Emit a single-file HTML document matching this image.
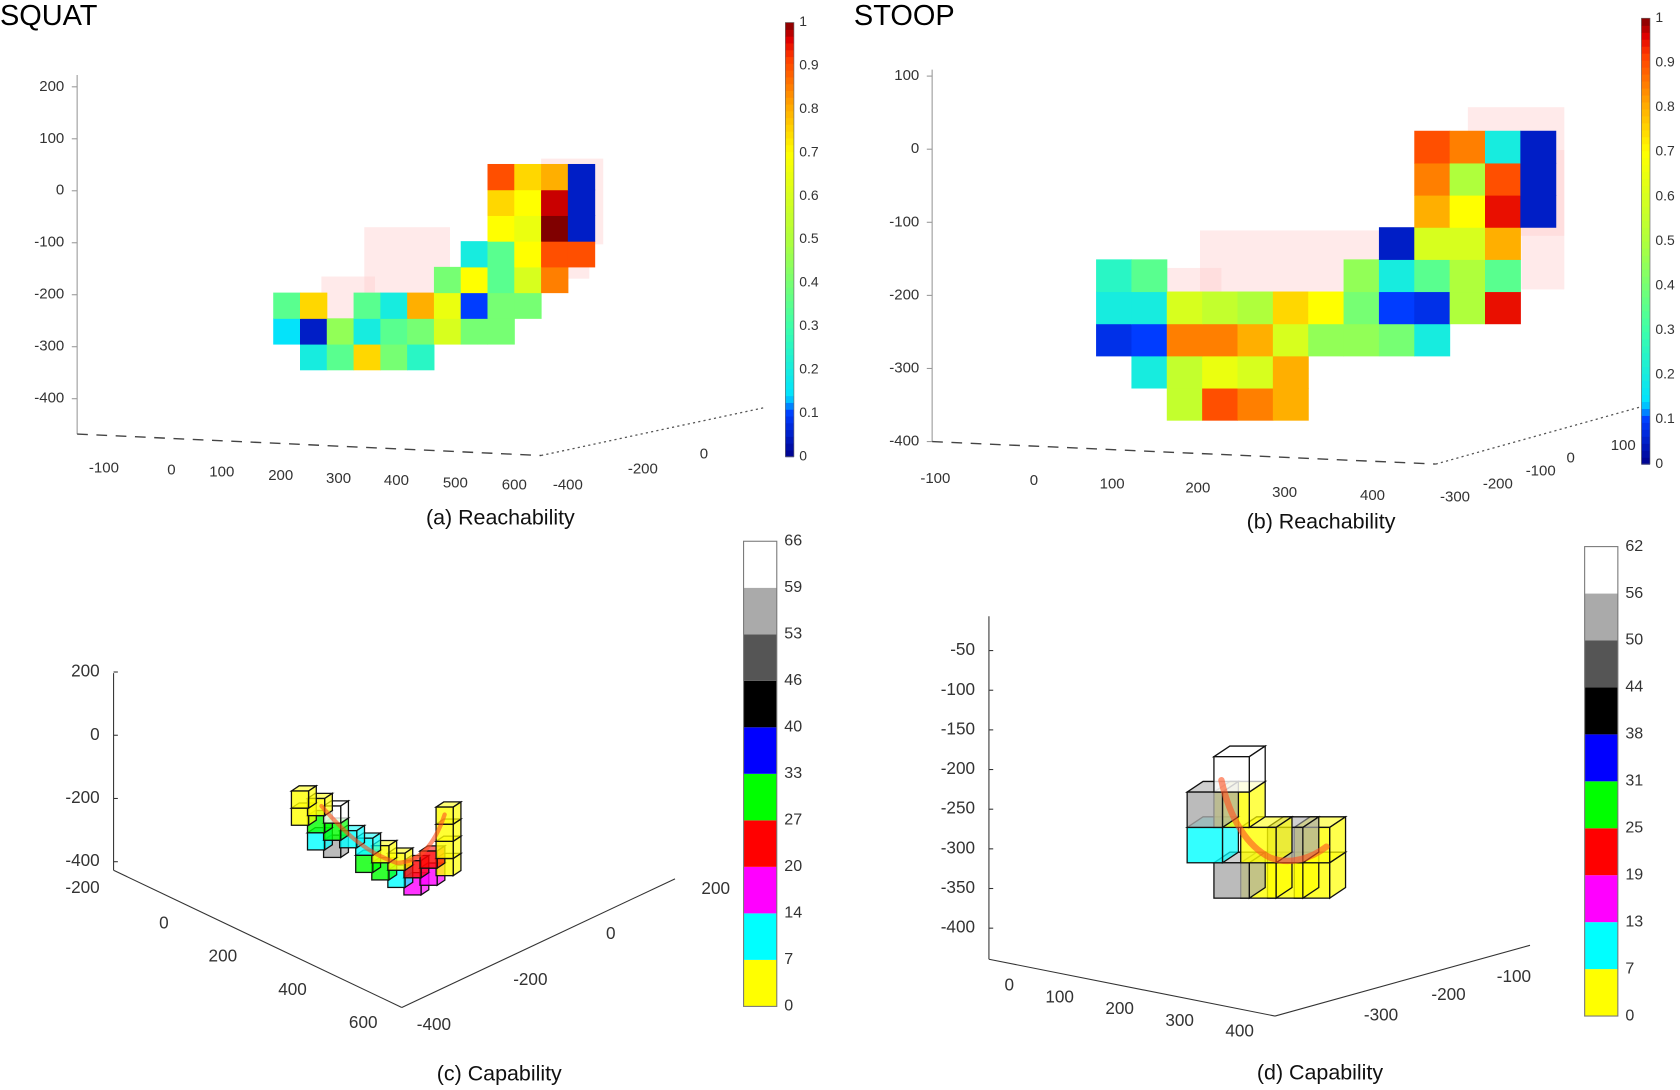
<!DOCTYPE html>
<html><head><meta charset="utf-8"><style>
html,body{margin:0;padding:0;background:#fff;}
svg{display:block;font-family:"Liberation Sans",sans-serif;}
</style></head><body>
<svg id="fig" width="1680" height="1090" viewBox="0 0 1568 1017" preserveAspectRatio="none" xmlns="http://www.w3.org/2000/svg"></svg>
<script>
// ---------- data ----------
const aCols=[1,2,3,4,5, 0,1,2,3,4,5,6,7,8, 0,1,3,4,5,6,7,8,9, 6,7,8,9,10, 7,8,9,10,11, 8,9,10,11, 8,9,10,11, 8,9,10,11];
const aRows=[0,0,0,0,0, 1,1,1,1,1,1,1,1,1, 2,2,2,2,2,2,2,2,2, 3,3,3,3,3, 4,4,4,4,4, 5,5,5,5, 6,6,6,6, 7,7,7,7];
const aVals=[.2,.35,.75,.4,.25, .15,.05,.45,.2,.35,.4,.6,.4,.4, .35,.75,.35,.2,.8,.65,.1,.4,.4, .4,.7,.35,.6,.85, .2,.35,.7,.9,.9, .7,.65,1,.05, .75,.7,.97,.05, .9,.75,.8,.05];
const bCols=[2,3,4,5, 1,2,3,4,5, 0,1,2,3,4,5,6,7,8,9, 0,1,2,3,4,5,6,7,8,9,10,11, 0,1,7,8,9,10,11, 8,9,10,11, 9,10,11,12, 9,10,11,12, 9,10,11,12];
const bRows=[0,0,0,0, 1,1,1,1,1, 2,2,2,2,2,2,2,2,2,2, 3,3,3,3,3,3,3,3,3,3,3,3, 4,4,4,4,4,4,4, 5,5,5,5, 6,6,6,6, 7,7,7,7, 8,8,8,8];
const bVals=[.55,.9,.85,.8, .2,.55,.65,.6,.8, .08,.1,.85,.85,.8,.6,.45,.45,.4,.2, .2,.2,.6,.55,.5,.75,.7,.4,.1,.08,.5,.95, .25,.35,.45,.2,.35,.5,.35, .05,.6,.6,.8, .8,.7,.95,.05, .85,.5,.9,.05, .9,.85,.2,.05];
const capColors=["#ffff00","#00ffff","#ff00ff","#ff0000","#00ff00","#0000ff","#000000","#555555","#aaaaaa","#ffffff"];
const cTicks=["0","7","14","20","27","33","40","46","53","59","66"];
const dTicks=["0","7","13","19","25","31","38","44","50","56","62"];
const cCol=[0,0,1,1,1,2,2,2,3,4,4,5,5,6,6,7,7,8,8,9,9,9,9];
const cRow=[2,1,2,1,0,1,0,2,1,1,0,0,1,0,1,1,0,2,1,2,3,4,5];
const cCat=[0,0,0,4,1,4,8,9,1,1,4,4,0,1,0,3,2,3,2,0,0,0,0];
const dCol=[1,1,0,0,1,2,3,2,3,4,4];
const dRow=[3,2,2,1,0,1,1,0,0,1,0];
const dCat=[9,0,8,1,8,0,8,0,0,0,0];
const aZ=["200","100","0","-100","-200","-300","-400"];
const aX=["-100","0","100","200","300","400","500","600"];
const aY=["-400","-200","0"];
const bZ=["100","0","-100","-200","-300","-400"];
const bX=["-100","0","100","200","300","400"];
const bY=["-300","-200","-100","0","100"];
const cbTicks=["0","0.1","0.2","0.3","0.4","0.5","0.6","0.7","0.8","0.9","1"];
const cZ=["200","0","-200","-400"];
const cX=["0","200","400","600"];
const cY=["-400","-200","0","200"];
const dZ=["-50","-100","-150","-200","-250","-300","-350","-400"];
const dX=["0","100","200","300","400"];
const dY=["-300","-200","-100"];

// ---------- helpers ----------
const NS="http://www.w3.org/2000/svg";
const svg=document.getElementById('fig');
function mk(tag,attrs,parent){const e=document.createElementNS(NS,tag);for(const k in attrs)e.setAttribute(k,attrs[k]);(parent||svg).appendChild(e);return e;}
function txt(x,y,s,size,anchor,parent,fill){const t=mk('text',{x:x,y:y,'font-size':size,'text-anchor':anchor||'start','dominant-baseline':'middle',fill:fill||'#333'},parent);t.textContent=s;return t;}
const stops=[[0,[0,0,140]],[0.1,[0,60,255]],[0.14,[0,225,255]],[0.3,[60,255,170]],[0.5,[175,255,60]],[0.7,[255,255,0]],[0.8,[255,175,0]],[0.92,[255,60,0]],[0.96,[225,0,0]],[1,[128,0,0]]];
function jet(v){
  for(let i=1;i<stops.length;i++){if(v<=stops[i][0]){const a=stops[i-1],b=stops[i],t=(v-a[0])/(b[0]-a[0]);
    const c=a[1].map((x,k)=>Math.round(x+(b[1][k]-x)*t));return `rgb(${c[0]},${c[1]},${c[2]})`;}}
  return 'rgb(128,0,0)';
}
function grp(name){const g=mk('g',{});return g;}

let g=grp('squat-title');txt(0,16,'SQUAT',27,'start',g,'#000');
g=grp('stoop-title');txt(797,16,'STOOP',27,'start',g,'#000');

function reach(name,opt){
  const G=grp(name);
  opt.pink.forEach(p=>{const r=mk('rect',{x:p[0],y:p[1],width:p[2],height:p[3],fill:'#ffd0d0','fill-opacity':0.45},G);});
  const xs=c=>opt.ox+c*opt.w, ys=r=>opt.oy-(r+1)*opt.h;
  opt.cols.forEach((c,i)=>{
    const x=xs(c), y=ys(opt.rows[i]), col=jet(opt.vals[i]);
    const r=mk('rect',{x:x,y:y,width:opt.w+0.5,height:opt.h+0.5,fill:col},G);
    
  });
  mk('line',{x1:opt.zx,y1:opt.zTop,x2:opt.zx,y2:opt.zBot,stroke:'#999','stroke-width':1},G);
  opt.zT.forEach((s,i)=>{const y=opt.zY0+i*opt.zStep;mk('line',{x1:opt.zx-5,y1:y,x2:opt.zx,y2:y,stroke:'#999'},G);txt(opt.zx-12,y,s,14,'end',G);});
  mk('line',{x1:opt.zx,y1:opt.zBot,x2:opt.bx,y2:opt.by,stroke:'#444','stroke-dasharray':'10,8','stroke-width':1.3},G);
  mk('line',{x1:opt.bx,y1:opt.by,x2:opt.ex,y2:opt.ey,stroke:'#555','stroke-dasharray':'2,3','stroke-width':1.2},G);
  opt.xT.forEach((s,i)=>{const p=opt.xP[i];txt(p[0],p[1],s,14,'middle',G);});
  opt.yT.forEach((s,i)=>{const p=opt.yP[i];txt(p[0],p[1],s,14,'middle',G);});
  const cb=mk('g',{},G);
  const n=64,h=(opt.cbB-opt.cbT)/n;
  for(let i=0;i<n;i++){mk('rect',{x:opt.cbx,y:opt.cbB-(i+1)*h,width:8,height:h+0.6,fill:jet((i+0.5)/n)},cb);}
  mk('rect',{x:opt.cbx,y:opt.cbT,width:8,height:opt.cbB-opt.cbT,fill:'none',stroke:'#666','stroke-width':0.6},cb);
  cbTicks.forEach((s,i)=>{const y=opt.cbB-i*(opt.cbB-opt.cbT)/10;txt(opt.cbx+13,y,s,13,'start',cb);});
  txt(opt.capX,opt.capY,opt.cap,20,'middle',G,'#111');
}
reach('panel-a-reachability',{cols:aCols,rows:aRows,vals:aVals,ox:255,oy:345,w:25,h:24,
  pink:[[340,212,80,78],[300,258,50,40],[505,148,58,80],[510,215,40,45]],
  zx:72,zTop:70,zBot:405,zY0:81,zStep:48.5,zT:aZ,bx:505,by:425,ex:715,ey:380,
  xT:aX,xP:[[97,437],[160,439],[207,441],[262,444],[316,447],[370,449],[425,451],[480,453]],
  yT:aY,yP:[[530,453],[600,438],[657,424]],cbx:733,cbT:21,cbB:426,capX:467,capY:484,cap:'(a) Reachability'});
reach('panel-b-reachability',{cols:bCols,rows:bRows,vals:bVals,ox:1023,oy:392,w:33,h:30,
  pink:[[1120,215,170,70],[1370,100,90,120],[1420,140,40,130],[1080,250,60,60]],
  zx:870,zTop:65,zBot:412,zY0:71,zStep:68.2,zT:bZ,bx:1340,by:433,ex:1530,ey:380,
  xT:bX,xP:[[873,447],[965,449],[1038,452],[1118,456],[1199,460],[1281,463]],
  yT:bY,yP:[[1358,464],[1398,452],[1438,440],[1466,428],[1515,416]],cbx:1532,cbT:17,cbB:433,capX:1233,capY:488,cap:'(b) Reachability'});

function cap(name,opt){
  const G=grp(name);
  const s=opt.s, dx=s*0.45, dy=s*0.3;
  const order=opt.col.map((c,i)=>i).sort((i,j)=>(opt.row[i]-opt.row[j])||(opt.col[j]-opt.col[i]));
  order.forEach(i=>{
    const x=opt.ox+opt.col[i]*opt.xs, y=opt.oy-opt.row[i]*s+opt.col[i]*opt.yc;
    const col=capColors[opt.cat[i]];
    const cg=mk('g',{},G);
    mk('polygon',{points:`${x},${y} ${x+dx},${y-dy} ${x+s+dx},${y-dy} ${x+s},${y}`,fill:col,'fill-opacity':0.55,stroke:'#111','stroke-width':1.2},cg);
    mk('polygon',{points:`${x+s},${y} ${x+s+dx},${y-dy} ${x+s+dx},${y+s-dy} ${x+s},${y+s}`,fill:col,'fill-opacity':0.7,stroke:'#111','stroke-width':1.2},cg);
    mk('rect',{x:x,y:y,width:s,height:s,fill:col,'fill-opacity':0.8,stroke:'#111','stroke-width':1.2},cg);
  });
  const tr=mk('path',{d:opt.path,fill:'none',stroke:'#ff5020','stroke-width':opt.tw,'stroke-opacity':0.6,'stroke-linecap':'round'},G);
  
  mk('line',{x1:opt.zx,y1:opt.zTop,x2:opt.zx,y2:opt.zBot,stroke:'#333'},G);
  opt.zT.forEach((s2,i)=>{const y=opt.zY0+i*opt.zStep;mk('line',{x1:opt.zx,y1:y,x2:opt.zx+4,y2:y,stroke:'#333'},G);txt(opt.zx-13,y,s2,16,'end',G);});
  mk('line',{x1:opt.zx,y1:opt.zBot,x2:opt.bx,y2:opt.by,stroke:'#333'},G);
  mk('line',{x1:opt.bx,y1:opt.by,x2:opt.ex,y2:opt.ey,stroke:'#333'},G);
  opt.xT.forEach((s2,i)=>{const p=opt.xP[i];txt(p[0],p[1],s2,16,'middle',G);});
  opt.yT.forEach((s2,i)=>{const p=opt.yP[i];txt(p[0],p[1],s2,16,'middle',G);});
  if(opt.extra)txt(opt.extra[0],opt.extra[1],opt.extra[2],16,'end',G);
  const cb=mk('g',{},G);
  const h=(opt.cbB-opt.cbT)/10;
  capColors.forEach((c,i)=>{mk('rect',{x:opt.cbx,y:opt.cbB-(i+1)*h,width:31,height:h,fill:c},cb);});
  mk('rect',{x:opt.cbx,y:opt.cbT,width:31,height:opt.cbB-opt.cbT,fill:'none',stroke:'#777','stroke-width':1},cb);
  opt.ticks.forEach((s2,i)=>{txt(opt.cbx+38,opt.cbB-i*h,s2,15,'start',cb);});
  txt(opt.capX,opt.capY,opt.cap,20,'middle',G,'#111');
}
cap('panel-c-capability',{col:cCol,row:cRow,cat:cCat,s:16,xs:15,yc:7,ox:272,oy:770,tw:4,
  path:'M300,752 C320,775 340,795 370,805 C390,805 405,790 415,760',
  zx:106,zTop:628,zBot:812,zY0:627,zStep:59,zT:cZ,bx:375,by:940,ex:630,ey:820,
  xT:cX,xP:[[153,862],[208,893],[273,924],[339,955]],yT:cY,yP:[[405,957],[495,915],[570,872],[668,830]],
  extra:[93,829,'-200'],cbx:694,cbT:505,cbB:939,ticks:cTicks,capX:466,capY:1003,cap:'(c) Capability'});
cap('panel-d-capability',{col:dCol,row:dRow,cat:dCat,s:33,xs:25,yc:0,ox:1108,oy:805,tw:6,
  path:'M1140,728 C1148,765 1165,790 1185,800 C1205,808 1225,800 1238,790',
  zx:923,zTop:575,zBot:895,zY0:607,zStep:37,zT:dZ,bx:1190,by:948,ex:1428,ey:882,
  xT:dX,xP:[[942,920],[989,931],[1045,942],[1101,953],[1157,963]],yT:dY,yP:[[1289,948],[1352,929],[1413,912]],
  cbx:1479,cbT:510,cbB:948,ticks:dTicks,capX:1232,capY:1002,cap:'(d) Capability'});
</script>
</body></html>
